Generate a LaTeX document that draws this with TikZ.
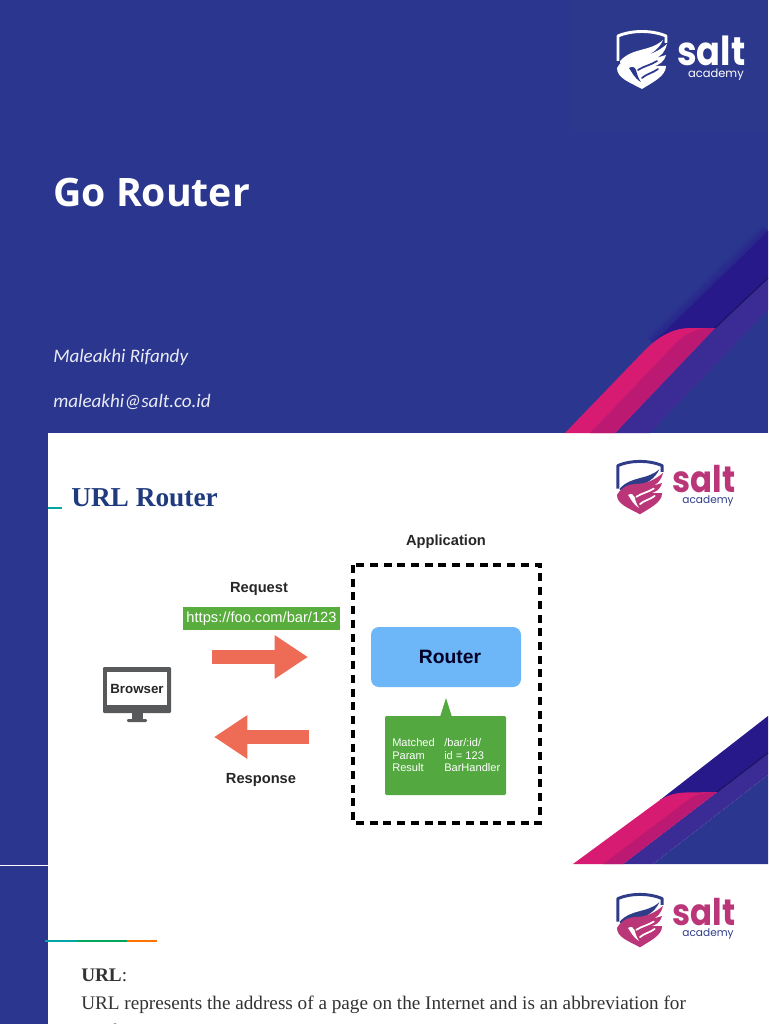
\documentclass[tikz,border=0pt]{standalone}
\usepackage{fontspec}
\setmainfont{Liberation Serif}
\newfontfamily\openfont{Open Sans}
\newfontfamily\calfont{Carlito}
\newfontfamily\helvfont{Liberation Sans}
\newfontfamily\logofont{Poppins}
\usetikzlibrary{arrows.meta}
\definecolor{navybg}{HTML}{2B378F}
\definecolor{navytop}{HTML}{2B388C}
\definecolor{darkband}{HTML}{28198A}
\definecolor{stripcol}{HTML}{3A2C94}
\definecolor{pinkcol}{HTML}{D81B72}
\definecolor{pinkdark}{HTML}{BC1A72}
\definecolor{flowcol}{HTML}{EE6C55}
\definecolor{greenbox}{HTML}{53A93F}
\definecolor{routercol}{HTML}{6DB6F8}
\definecolor{monitorcol}{HTML}{58595B}
\definecolor{logopink}{HTML}{BA3679}
\definecolor{logonavy}{HTML}{2F3C88}
\definecolor{titleblue}{HTML}{1F3A7D}
\definecolor{bodygray}{HTML}{333333}
\tikzset{
  flowarrow/.style={draw=flowcol, line width=10.5pt, -{Triangle[length=25pt,width=31pt]}},
  heading/.style={font=\helvfont\bfseries\fontsize{11}{13}\selectfont, text=black!85, inner sep=0pt},
  greenline/.style={font=\helvfont\fontsize{8.3}{9}\selectfont, text=white, anchor=base west, inner sep=0pt},
  bodyline/.style={font=\fontsize{14.4}{16}\selectfont, text=bodygray, anchor=base west, inner sep=0pt},
  sidebar/.style={fill=navybg, draw=none},
}
% args: x, y, scale, shield top, wing, gap colour, salt colour, academy colour
\newcommand{\saltlogo}[8]{
  \begin{scope}[shift={(#1,#2)}, scale=#3, every node/.append style={transform shape}]
    \draw[#4, line width=2.2pt, line join=round] (1,31) -- (1,6) .. controls (15,0) and (35,0) .. (49,6) -- (49,13);
    \fill[#4] (3,31) .. controls (16,17) and (33,22) .. (46,10) .. controls (42,20) and (30,28) .. (18,29) -- (3,33) -- cycle;
    \fill[#5] (0,38) .. controls (5,29) and (14,26) .. (21,26) .. controls (32,26) and (42,21) .. (50,14) .. controls (48,22) and (44,26) .. (39,28) -- (49,25) .. controls (47,32) and (42,35) .. (37,36) -- (49,36) .. controls (49,46) and (36,52) .. (25,59) .. controls (12,52) and (0,48) .. (0,38) -- cycle;
    \draw[#6, line width=1.3pt, line cap=round] (21,40) .. controls (27,36) and (34,35) .. (40,31);
    \draw[#6, line width=1.3pt, line cap=round] (25,48) .. controls (29,44) and (36,43) .. (41,39);
    \fill[#6] (12,38) .. controls (15,36) and (18,37) .. (19,40) .. controls (20,44) and (21,48) .. (24,52) .. controls (17,48) and (15,42) .. (12,38) -- cycle;
    \node[anchor=base west, xscale=.88, inner sep=0pt, text=#7, font=\logofont\bfseries\fontsize{30}{31}\selectfont] (saltword#2) at (60,35) {salt};
    \node[anchor=base east, inner sep=0pt, text=#8, font=\logofont\fontsize{8.6}{10}\selectfont] (academyword#2) at (127,47.5) {academy};
  \end{scope}
}

\begin{document}
\begin{tikzpicture}[x=.75pt, y=-.75pt]
\useasboundingbox (0,0) rectangle (768,1024);
\clip (0,0) rectangle (768,1024);
\fill[white] (0,0) rectangle (768,1024);

% first slide
\fill[navybg] (0,0) rectangle (768,433);
\fill[navytop] (570,0) rectangle (768,130);
\foreach \d in {2,4,6} {
  \fill[darkband, opacity=.18] (653-\d,343-\d) -- (768-\d,231-\d) -- (768,231) -- (653,343) -- cycle;
}
\fill[darkband] (653,343) -- (768,231) -- (768,278) -- (715,328) -- cycle;
\fill[stripcol] (615,433) -- (715,328) -- (768,278) -- (768,310) -- (650,433) -- cycle;
\draw[darkband!70!black, line width=.8pt] (715,328) -- (768,278);
\fill[pinkcol] (565,433) -- (645,350) .. controls (660,335) and (675,328) .. (690,328) -- (715,328) -- (615,433) -- cycle;
\fill[pinkdark] (590,433) -- (675,344) .. controls (685,334) and (695,329) .. (708,328) -- (715,328) -- (615,433) -- cycle;
\node[anchor=base west, inner sep=0pt, text=white, font=\openfont\bfseries\fontsize{29.4}{32}\selectfont] (gotitle) at (53,206) {Go Router};
\node[anchor=base west, inner sep=0pt, text=white!90!navybg, font=\calfont\itshape\fontsize{14.3}{16}\selectfont] (author) at (53,362) {Maleakhi Rifandy};
\node[anchor=base west, inner sep=0pt, text=white!90!navybg, font=\calfont\itshape\fontsize{14.3}{16}\selectfont] (email) at (53,407) {maleakhi@salt.co.id};
\saltlogo{617}{30}{1}{white}{white}{navybg}{white}{white}

% second slide
\fill[sidebar] (0,433) rectangle (48,865);
\fill[navybg] (653,864) -- (768,775) -- (768,864) -- cycle;
\fill[darkband] (660,800) -- (768,716) -- (768,753) -- (717,792) -- cycle;
\fill[stripcol] (623,864) -- (717,792) -- (768,753) -- (768,775) -- (653,864) -- cycle;
\draw[darkband!70!black, line width=.8pt] (717,792) -- (768,753);
\fill[pinkcol] (573,864) -- (660,800) .. controls (668,795) and (675,793) .. (685,792.5) -- (717,792) -- (623,864) -- cycle;
\fill[pinkdark] (603,864) -- (680,806) .. controls (690,798) and (697,793) .. (712,792) -- (717,792) -- (623,864) -- cycle;
\node[anchor=base west, inner sep=0pt, text=titleblue, font=\bfseries\fontsize{20.5}{22}\selectfont] (urltitle) at (71,506) {URL Router};
\draw[teal!70!cyan, line width=.8pt] (48,508) -- (62,508);
\saltlogo{617}{460}{.92}{logonavy}{logopink}{white}{logopink}{logonavy}

\node[heading] (application) at (446,541.5) {Application};
\draw[black, line width=2.3pt, dash pattern=on 6pt off 4.3pt] (353,565) rectangle (540,823);
\node[fill=routercol, rounded corners=6pt, minimum width=112.5pt, minimum height=45pt, inner sep=0pt, font=\helvfont\bfseries\fontsize{14.5}{16}\selectfont, text=black!85!blue] (router) at (446,657) {\hspace*{6pt}Router};
\fill[greenbox, rounded corners=1pt] (385,716) rectangle (506,795);
\fill[greenbox] (440,717) -- (446,698) -- (452,717) -- cycle;
\foreach \y/\lft/\rgt in {746.5/Matched/{/bar/:id/}, 759/Param/id = 123, 771.5/Result/BarHandler} {
  \node[greenline] (lft\y) at (392,\y) {\lft};
  \node[greenline] (rgt\y) at (444,\y) {\rgt};
}

\node[heading] (request) at (259,589) {Request};
\node[fill=greenbox!95!lime, minimum width=117.5pt, minimum height=17pt, inner sep=0pt, text=white, font=\helvfont\fontsize{11}{13}\selectfont] (urlbox) at (261.5,618.5) {https://foo.com/bar/123};
\coordinate (reqstart) at (212,657);
\coordinate (reqend) at (308,657);
\draw[flowarrow] (reqstart) -- (reqend);
\coordinate (respstart) at (309,737);
\coordinate (respend) at (214,737);
\draw[flowarrow] (respstart) -- (respend);
\node[heading] (response) at (261,780) {Response};

\fill[monitorcol, rounded corners=.8pt] (103,667) rectangle (171,713);
\fill[white] (107,672) rectangle (167,705);
\fill[monitorcol] (132,713) rectangle (143,719);
\fill[monitorcol, rounded corners=.8pt] (127,719) rectangle (147,722);
\node[inner sep=0pt, font=\helvfont\bfseries\fontsize{10}{11}\selectfont, text=black!85] (browser) at (137,688.5) {Browser};

% third slide
\fill[white] (0,865) rectangle (48,866);
\fill[sidebar] (0,866) rectangle (48,1024);
\draw[teal!70!cyan, line width=.8pt] (45,941) -- (77,941);
\draw[teal!70!green, line width=.8pt] (77,941) -- (127,941);
\draw[orange!90!red, line width=.8pt] (127,941) -- (157,941);
\saltlogo{617}{893}{.92}{logonavy}{logopink}{white}{logopink}{logonavy}
\node[bodyline] (urlhead) at (81,981) {\textbf{URL}:};
\node[bodyline] (urlbody) at (81,1009) {URL represents the address of a page on the Internet and is an abbreviation for};
\node[bodyline] (urlnext) at (81,1037) {Uniform Resource Locator};
\end{tikzpicture}
\end{document}
